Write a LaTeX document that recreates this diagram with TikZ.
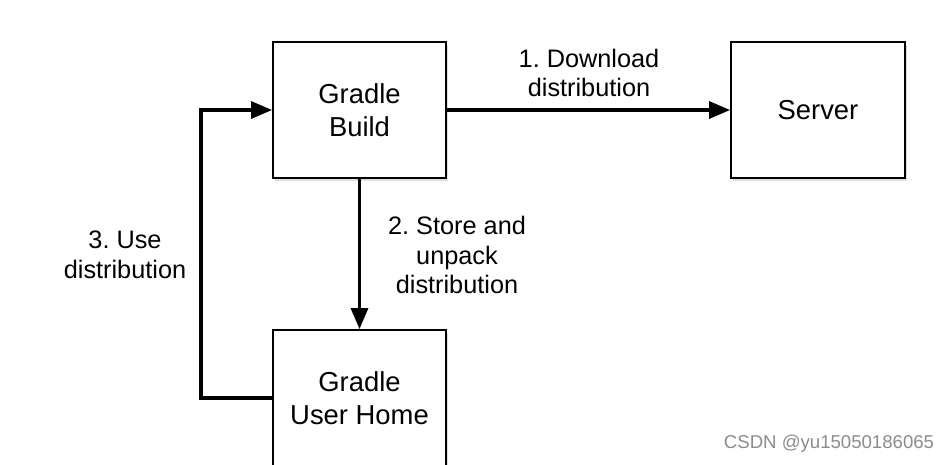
\documentclass[tikz,border=0pt]{standalone}
\usepackage{fontspec}
\setmainfont{Liberation Sans}
\usetikzlibrary{arrows.meta,shadows}
\frenchspacing
\begin{document}
\begin{tikzpicture}[x=1pt,y=1pt,
  box/.style={draw=black,line width=1.8pt,fill=white,minimum width=173pt,minimum height=136pt,
    inner sep=0pt,align=center,font=\fontsize{27.4}{32.5}\selectfont,
    drop shadow={opacity=0.25,shadow xshift=1.5pt,shadow yshift=-2.5pt}},
  conn/.style={line width=3.2pt,-{Triangle[length=21pt,width=17pt]}},
  lbl/.style={align=center,font=\fontsize{25.3}{29.8}\selectfont,inner sep=0pt}]
\useasboundingbox (0,0) rectangle (949,-464);
\fill[white] (0,0) rectangle (949,-464);
\begin{scope}
\clip (0,0) rectangle (949,-464);
\node[box] (build) at (359.5,-110) {Gradle\\Build};
\node[box,minimum width=174pt] (server) at (818,-110) {Server};
\node[box] (home) at (359.5,-398) {Gradle\\User Home};
\coordinate (turn) at (201,-398);
\draw[conn] (build.east) -- (server.west);
\draw[conn] (build.south) -- (home.north);
\draw[conn] (home.west) -- (turn) |- (build.west);
\node[lbl] (l1) at (589,-73) {1. Download\\distribution};
\node[lbl] (l2) at (457,-255) {2. Store and\\unpack\\distribution};
\node[lbl] (l3) at (125,-255) {3. Use\\distribution};
\node[font=\fontsize{18.6}{21}\selectfont,text=black!45,inner sep=0pt] (wm) at (829,-444) {CSDN @yu15050186065};
\end{scope}
\end{tikzpicture}
\end{document}
